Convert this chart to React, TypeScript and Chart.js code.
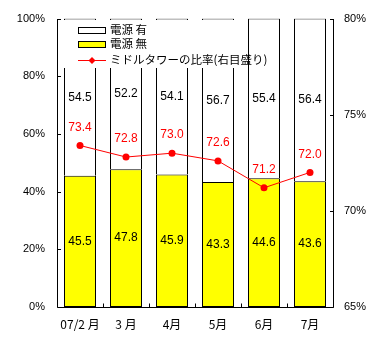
import React, { useEffect, useRef } from "react";
import { Chart, registerables } from "chart.js";
Chart.register(...registerables);

const categories = ["07/2 月", "3 月", "4月", "5月", "6月", "7月"];
const withPower = [54.5, 52.2, 54.1, 56.7, 55.4, 56.4];
const withoutPower = [45.5, 47.8, 45.9, 43.3, 44.6, 43.6];
const midTowerRatio = [73.4, 72.8, 73.0, 72.6, 71.2, 72.0];
const seriesNames = ["電源 有", "電源 無", "ミドルタワーの比率(右目盛り)"];

const FONT = '"Liberation Sans", "Noto Sans CJK JP", sans-serif';
const CJK = '"Noto Sans CJK JP", "Liberation Sans", sans-serif';

const customPlugin = {
  id: "custom",
  afterDatasetsDraw(chart: any) {
    const ctx = chart.ctx;
    ctx.save();
    ctx.textAlign = "center";
    ctx.textBaseline = "middle";
    chart.data.datasets.forEach((ds: any, di: number) => {
      const meta = chart.getDatasetMeta(di);
      meta.data.forEach((el: any, i: number) => {
        const v = ds.data[i];
        if (ds.type === "line") {
          ctx.fillStyle = "#FF0000";
          ctx.font = "12px " + FONT;
          ctx.fillText(v.toFixed(1), el.x, el.y - 18);
        } else {
          const p = el.getProps(["x", "y", "base"], true);
          ctx.fillStyle = "#000";
          ctx.font = "12px " + FONT;
          ctx.fillText(v.toFixed(1), p.x, (p.y + p.base) / 2);
        }
      });
    });
    ctx.restore();
  },
  afterDraw(chart: any) {
    const ctx = chart.ctx;
    const { left, right, top, bottom } = chart.chartArea;
    const y = chart.scales.y;
    const y1 = chart.scales.y1;
    const x = chart.scales.x;
    ctx.save();
    ctx.strokeStyle = "#000";
    ctx.lineWidth = 1;
    ctx.beginPath();
    const L = Math.round(left) + 0.5;
    const R = Math.round(right) + 0.5;
    const B = Math.round(bottom) + 0.5;
    const T = Math.round(top);
    ctx.moveTo(L, T);
    ctx.lineTo(L, B);
    ctx.lineTo(R, B);
    ctx.lineTo(R, T);
    y.ticks.forEach((t: any) => {
      const py = Math.round(y.getPixelForValue(t.value)) + 0.5;
      ctx.moveTo(L, py);
      ctx.lineTo(L + 3.5, py);
    });
    y1.ticks.forEach((t: any) => {
      const py = Math.round(y1.getPixelForValue(t.value)) + 0.5;
      ctx.moveTo(R - 3.5, py);
      ctx.lineTo(R, py);
    });
    for (let i = 1; i < categories.length; i++) {
      const px = Math.round((x.getPixelForValue(i - 1) + x.getPixelForValue(i)) / 2) + 0.5;
      ctx.moveTo(px, B);
      ctx.lineTo(px, B - 4);
    }
    ctx.stroke();

    // legend
    ctx.fillStyle = "#fff";
    ctx.fillRect(60, 20, 182, 48);
    ctx.strokeStyle = "#000";
    ctx.fillStyle = "#fff";
    ctx.fillRect(78, 27, 28, 6);
    ctx.strokeRect(78.5, 27.5, 27, 6);
    ctx.fillStyle = "#FFFF00";
    ctx.fillRect(78, 41, 28, 6);
    ctx.strokeRect(78.5, 41.5, 27, 6);
    ctx.strokeStyle = "#FF0000";
    ctx.beginPath();
    ctx.moveTo(78, 60.5);
    ctx.lineTo(106, 60.5);
    ctx.stroke();
    ctx.fillStyle = "#FF0000";
    ctx.beginPath();
    ctx.moveTo(92, 57);
    ctx.lineTo(95.5, 60.5);
    ctx.lineTo(92, 64);
    ctx.lineTo(88.5, 60.5);
    ctx.closePath();
    ctx.fill();
    ctx.fillStyle = "#000";
    ctx.font = "11.5px " + CJK;
    ctx.textAlign = "left";
    ctx.textBaseline = "middle";
    ctx.fillText(seriesNames[0], 110, 30);
    ctx.fillText(seriesNames[1], 110, 44);
    ctx.fillText(seriesNames[2], 110, 60);
    ctx.restore();
  },
};

export default function App() {
  const ref = useRef<HTMLCanvasElement>(null);
  useEffect(() => {
    const chart = new Chart(ref.current as HTMLCanvasElement, {
      data: {
        labels: categories,
        datasets: [
          {
            type: "line",
            label: seriesNames[2],
            data: midTowerRatio,
            yAxisID: "y1",
            borderColor: "#FF0000",
            backgroundColor: "#FF0000",
            borderWidth: 1,
            pointStyle: "circle",
            pointRadius: 3.5,
            pointBorderWidth: 0,
            order: 0,
          } as any,
          {
            type: "bar",
            label: seriesNames[1],
            data: withoutPower,
            yAxisID: "y",
            backgroundColor: "#FFFF00",
            borderColor: "#000",
            borderWidth: 1,
            borderSkipped: false,
            categoryPercentage: 1,
            barPercentage: 32 / 46,
            order: 1,
          } as any,
          {
            type: "bar",
            label: seriesNames[0],
            data: withPower,
            yAxisID: "y",
            backgroundColor: "#FFFFFF",
            borderColor: "#000",
            borderWidth: 1,
            borderSkipped: "start",
            categoryPercentage: 1,
            barPercentage: 32 / 46,
            order: 1,
          } as any,
        ],
      },
      options: {
        responsive: false,
        animation: false,
        layout: { padding: { top: 16, left: 0, right: 0, bottom: 0 } },
        plugins: { legend: { display: false }, tooltip: { enabled: false } },
        scales: {
          x: {
            stacked: true,
            grid: { display: false, drawTicks: false },
            border: { display: false },
            ticks: { color: "#000", font: { size: 12, family: CJK }, padding: 10, maxRotation: 0 },
            afterFit: (s: any) => { s.height = 44; },
          },
          y: {
            stacked: true,
            position: "left",
            min: 0,
            max: 100,
            grid: { display: false, drawTicks: false },
            border: { display: false },
            ticks: {
              stepSize: 20,
              color: "#000",
              font: { size: 11, family: FONT },
              padding: 12,
              callback: (v: any) => v + "%",
            },
            afterFit: (s: any) => { s.width = 57; },
          },
          y1: {
            position: "right",
            min: 65,
            max: 80,
            grid: { display: false, drawTicks: false },
            border: { display: false },
            ticks: {
              stepSize: 5,
              color: "#000",
              font: { size: 11, family: FONT },
              padding: 11,
              callback: (v: any) => v + "%",
            },
            afterFit: (s: any) => { s.width = 48; },
          },
        },
      } as any,
      plugins: [customPlugin],
    });
    return () => chart.destroy();
  }, []);
  return (
    <div style={{ position: "absolute", left: 0, top: 0, width: 381, height: 351, background: "#fff" }}>
      <canvas ref={ref} width={381} height={351} />
    </div>
  );
}
